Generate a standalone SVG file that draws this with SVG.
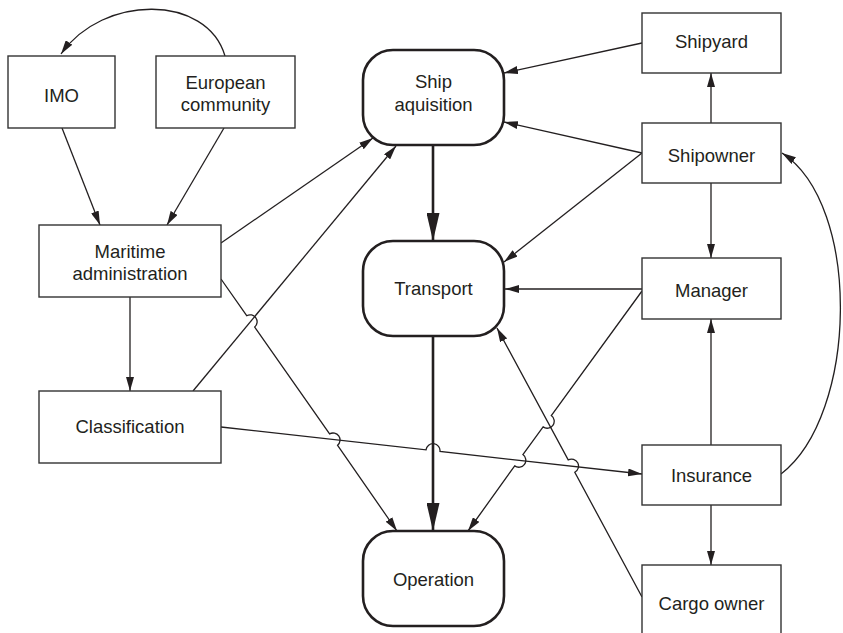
<svg xmlns="http://www.w3.org/2000/svg" width="843" height="633" viewBox="0 0 843 633">
  <style>
    .box { fill: #ffffff; stroke: #333333; stroke-width: 1.4; }
    .stage { fill: #ffffff; stroke: #231f20; stroke-width: 2.6; }
    .lbl { font-family: "Liberation Sans", Arial, sans-serif; font-size: 18.5px; fill: #231f20; text-anchor: middle; }
    .edge { fill: none; stroke: #231f20; stroke-width: 1.3; marker-end: url(#arr); }
    .flow { fill: none; stroke: #231f20; stroke-width: 2.6; marker-end: url(#arrBig); }
  </style>
  <defs>
    <marker id="arr" markerUnits="userSpaceOnUse" viewBox="0 0 14 8" markerWidth="14" markerHeight="8" refX="14" refY="4" orient="auto">
      <path d="M0,0 L14,4 L0,8 z" fill="#231f20"/>
    </marker>
    <marker id="arrBig" markerUnits="userSpaceOnUse" viewBox="0 0 28 13" markerWidth="28" markerHeight="13" refX="28" refY="6.5" orient="auto">
      <path d="M0,0 L28,6.5 L0,13 z" fill="#231f20"/>
    </marker>
  </defs>

  <rect width="843" height="633" fill="#ffffff"/>

  <!-- connectors -->
  <g id="connectors">
    <!-- European community -> IMO -->
    <path class="edge" d="M225,56 C207,-6 103,-6 61,54"/>
    <path class="edge" d="M62,128 L100,225"/>
    <path class="edge" d="M224,128 L167,225"/>
    <path class="edge" d="M130,297 L130,391"/>
    <path class="edge" d="M221,243 L373,138"/>
    <path class="edge" d="M193,391 L396,146"/>
    <!-- Maritime administration -> Operation, hopping two lines -->
    <path class="edge" d="M221,279 L246.7,315.7 A7,7 0 0 1 254.7,327.1 L329.6,433.9 A7,7 0 0 1 337.6,445.3 L397,531"/>
    <!-- Classification -> Insurance, hopping the main flow -->
    <path class="edge" d="M221,427 L426,449.9 A7,7 0 0 1 440,451.5 L642,474"/>
    <path class="edge" d="M642,43 L504,73"/>
    <path class="edge" d="M711,123 L711,73"/>
    <path class="edge" d="M642,153 L504,122"/>
    <path class="edge" d="M642,153 L504,262"/>
    <path class="edge" d="M711,183 L711,258"/>
    <path class="edge" d="M642,289 L505,289"/>
    <!-- Manager -> Operation, hopping two lines -->
    <path class="edge" d="M642,291 L551.3,415.5 A7,7 0 0 1 543.1,426.9 L522.9,454.5 A7,7 0 0 1 514.7,465.9 L468,531"/>
    <path class="edge" d="M711,445 L711,319"/>
    <path class="edge" d="M711,505 L711,565"/>
    <!-- Insurance -> Shipowner -->
    <path class="edge" d="M781,474 C858,415 862,205 782,153"/>
    <!-- Cargo owner -> Transport, hopping Classification line -->
    <path class="edge" d="M642,597 L574.8,472.3 A7,7 0 0 0 568.2,459.9 L497,328"/>
    <!-- main flow -->
    <path class="flow" d="M433,145 L433,241"/>
    <path class="flow" d="M433,336 L433,531"/>
  </g>

  <g id="imo">
    <rect class="box" x="8" y="56" width="107" height="72"/>
    <text class="lbl" x="61.5" y="102">IMO</text>
  </g>
  <g id="european-community">
    <rect class="box" x="156" y="56" width="139" height="72"/>
    <text class="lbl" x="225.5" y="89">European</text>
    <text class="lbl" x="225.5" y="111">community</text>
  </g>
  <g id="maritime-administration">
    <rect class="box" x="39" y="225" width="182" height="72"/>
    <text class="lbl" x="130" y="258">Maritime</text>
    <text class="lbl" x="130" y="280">administration</text>
  </g>
  <g id="classification">
    <rect class="box" x="39" y="391" width="182" height="72"/>
    <text class="lbl" x="130" y="433">Classification</text>
  </g>

  <g id="ship-aquisition">
    <rect class="stage" x="363" y="50" width="141" height="95" rx="30" ry="30"/>
    <text class="lbl" x="433.5" y="88">Ship</text>
    <text class="lbl" x="433.5" y="111">aquisition</text>
  </g>
  <g id="transport">
    <rect class="stage" x="363" y="241" width="141" height="95" rx="30" ry="30"/>
    <text class="lbl" x="433.5" y="295">Transport</text>
  </g>
  <g id="operation">
    <rect class="stage" x="363" y="531" width="141" height="95" rx="30" ry="30"/>
    <text class="lbl" x="433.5" y="586">Operation</text>
  </g>

  <g id="shipyard">
    <rect class="box" x="642" y="13" width="139" height="60"/>
    <text class="lbl" x="711.5" y="48">Shipyard</text>
  </g>
  <g id="shipowner">
    <rect class="box" x="642" y="123" width="139" height="60"/>
    <text class="lbl" x="711.5" y="162">Shipowner</text>
  </g>
  <g id="manager">
    <rect class="box" x="642" y="258" width="139" height="61"/>
    <text class="lbl" x="711.5" y="297">Manager</text>
  </g>
  <g id="insurance">
    <rect class="box" x="642" y="445" width="139" height="60"/>
    <text class="lbl" x="711.5" y="482">Insurance</text>
  </g>
  <g id="cargo-owner">
    <rect class="box" x="642" y="565" width="139" height="80"/>
    <text class="lbl" x="711.5" y="610">Cargo owner</text>
  </g>
</svg>
